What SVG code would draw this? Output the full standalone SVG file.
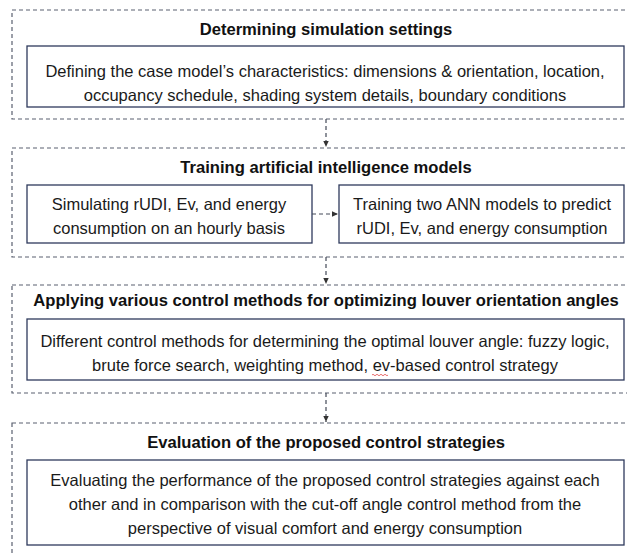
<svg xmlns="http://www.w3.org/2000/svg" width="627" height="556" viewBox="0 0 627 556">
<defs>
<style>
.outer{fill:none;stroke:#5a6070;stroke-width:1.2;stroke-dasharray:4 3}
.inner{fill:#fff;stroke:#2e3a5c;stroke-width:1.3}
.title{font-family:"Liberation Sans",Arial,sans-serif;font-weight:bold;font-size:16.6px;fill:#111;text-anchor:middle}
.body{font-family:"Liberation Sans",Arial,sans-serif;font-size:16.5px;fill:#1a1a1a;text-anchor:middle}
.conn{fill:none;stroke:#444a58;stroke-width:1.2;stroke-dasharray:4 3}
</style>
<marker id="ah" viewBox="0 0 10 10" refX="9" refY="5" markerWidth="7" markerHeight="7" orient="auto" markerUnits="userSpaceOnUse">
<path d="M0,1 L9,5 L0,9 Z" fill="#333"/>
</marker>
</defs>
<rect width="627" height="556" fill="#fff"/>

<g id="stage1">
<rect class="outer" x="12" y="10" width="640" height="109"/>
<text class="title" x="326" y="35">Determining simulation settings</text>
<g id="node-case-model">
<rect class="inner" x="27" y="46" width="597" height="61"/>
<text class="body" x="325" y="77">Defining the case model’s characteristics: dimensions &amp; orientation, location,</text>
<text class="body" x="325" y="101">occupancy schedule, shading system details, boundary conditions</text>
</g>
</g>

<g id="stage2">
<rect class="outer" x="12" y="148" width="640" height="109"/>
<text class="title" x="326" y="173">Training artificial intelligence models</text>
<g id="node-simulating">
<rect class="inner" x="27" y="185" width="285" height="58"/>
<text class="body" x="169" y="210">Simulating rUDI, Ev, and energy</text>
<text class="body" x="169" y="234">consumption on an hourly basis</text>
</g>
<g id="node-training">
<rect class="inner" x="339" y="185" width="285" height="58"/>
<text class="body" x="482" y="210">Training two ANN models to predict</text>
<text class="body" x="482" y="234">rUDI, Ev, and energy consumption</text>
</g>
</g>

<g id="stage3">
<rect class="outer" x="12" y="285" width="640" height="108"/>
<text class="title" x="326" y="306">Applying various control methods for optimizing louver orientation angles</text>
<g id="node-control-methods">
<rect class="inner" x="27" y="319" width="597" height="61"/>
<text class="body" x="325" y="347">Different control methods for determining the optimal louver angle: fuzzy logic,</text>
<text class="body" x="325" y="371">brute force search, weighting method, ev-based control strategy</text>
<path d="M372,375 q1,-1.5 2,0 t2,0 t2,0 t2,0 t2,0 t2,0 t2,0 t2,0" fill="none" stroke="#e03030" stroke-width="0.7"/>
</g>
</g>

<g id="stage4">
<rect class="outer" x="12" y="423" width="640" height="160"/>
<text class="title" x="326" y="448">Evaluation of the proposed control strategies</text>
<g id="node-evaluating">
<rect class="inner" x="27" y="460" width="597" height="85"/>
<text class="body" x="325" y="486">Evaluating the performance of the proposed control strategies against each</text>
<text class="body" x="325" y="510">other and in comparison with the cut-off angle control method from the</text>
<text class="body" x="325" y="534">perspective of visual comfort and energy consumption</text>
</g>
</g>

<g id="connectors">
<line class="conn" x1="326" y1="119" x2="326" y2="147" marker-end="url(#ah)"/>
<line class="conn" x1="312" y1="214" x2="338" y2="214" marker-end="url(#ah)"/>
<line class="conn" x1="326" y1="257" x2="326" y2="284" marker-end="url(#ah)"/>
<line class="conn" x1="326" y1="393" x2="326" y2="422" marker-end="url(#ah)"/>
</g>
</svg>
